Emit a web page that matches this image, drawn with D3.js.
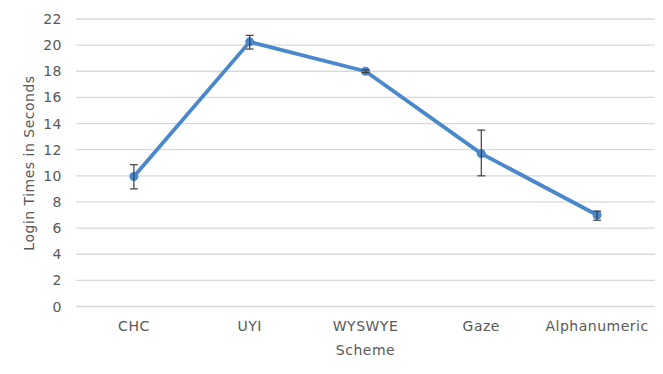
<!DOCTYPE html>
<html>
<head>
<meta charset="utf-8">
<script src="https://cdn.jsdelivr.net/npm/d3@7"></script>
<style>
  body { margin: 0; background: #fff; }
  text { font-family: "DejaVu Sans", Verdana, sans-serif; fill: #595959; letter-spacing: 0.5px; }
</style>
</head>
<body>
<div id="drawing"></div>
<script>
// chart data
const schemes = ["CHC", "UYI", "WYSWYE", "Gaze", "Alphanumeric"];
const loginTimes = [9.95, 20.25, 18.0, 11.7, 7.0];
const errLow = [9.0, 19.7, 17.9, 10.0, 6.6];
const errHigh = [10.85, 20.75, 18.1, 13.5, 7.3];
const yTicks = [0, 2, 4, 6, 8, 10, 12, 14, 16, 18, 20, 22];

const data = schemes.map((s, i) => ({
  scheme: s, value: loginTimes[i], lo: errLow[i], hi: errHigh[i]
}));

const svg = d3.select("#drawing")
  .append("svg")
  .attr("width", 663)
  .attr("height", 374);

const plotLeft = 76, plotRight = 655, plotTop = 19, plotBottom = 306.5;

const xScale = d3.scaleBand().domain(schemes).range([plotLeft, plotRight]);
const yScale = d3.scaleLinear().domain([0, 22]).range([plotBottom, plotTop]);

// gridlines
svg.append("g")
  .selectAll("line")
  .data(yTicks)
  .enter()
  .append("line")
  .attr("x1", plotLeft)
  .attr("x2", plotRight)
  .attr("y1", d => yScale(d))
  .attr("y2", d => yScale(d))
  .attr("stroke", "#d9d9d9")
  .attr("stroke-width", 1.3);

// y tick labels
svg.append("g")
  .selectAll("text")
  .data(yTicks)
  .enter()
  .append("text")
  .attr("x", 62)
  .attr("y", d => yScale(d) + 5)
  .attr("text-anchor", "end")
  .attr("font-size", "14px")
  .text(d => d);

// x labels
svg.append("g")
  .selectAll("text")
  .data(schemes)
  .enter()
  .append("text")
  .attr("x", d => xScale(d) + xScale.bandwidth() / 2)
  .attr("y", 331)
  .attr("text-anchor", "middle")
  .attr("font-size", "14px")
  .text(d => d);

// axis titles
svg.append("text")
  .attr("x", xScale("WYSWYE") + xScale.bandwidth() / 2)
  .attr("y", 355)
  .attr("text-anchor", "middle")
  .attr("font-size", "14px")
  .text("Scheme");

svg.append("text")
  .attr("transform", "rotate(-90)")
  .attr("x", -163)
  .attr("y", 34)
  .attr("text-anchor", "middle")
  .attr("font-size", "14px")
  .text("Login Times in Seconds");

const cx = d => xScale(d.scheme) + xScale.bandwidth() / 2;

// line
const line = d3.line().x(cx).y(d => yScale(d.value));
svg.append("path")
  .datum(data)
  .attr("d", line)
  .attr("fill", "none")
  .attr("stroke", "#4a88cb")
  .attr("stroke-width", 3.8)
  .attr("stroke-linejoin", "round");

// markers
svg.append("g")
  .selectAll("circle")
  .data(data)
  .enter()
  .append("circle")
  .attr("cx", cx)
  .attr("cy", d => yScale(d.value))
  .attr("r", 4.5)
  .attr("fill", "#4a88cb");

// error bars
const eb = svg.append("g").attr("stroke", "#404040").attr("stroke-width", 1.2);
data.forEach(d => {
  const x = cx(d);
  eb.append("line").attr("x1", x).attr("x2", x)
    .attr("y1", yScale(d.lo)).attr("y2", yScale(d.hi));
  eb.append("line").attr("x1", x - 4).attr("x2", x + 4)
    .attr("y1", yScale(d.lo)).attr("y2", yScale(d.lo));
  eb.append("line").attr("x1", x - 4).attr("x2", x + 4)
    .attr("y1", yScale(d.hi)).attr("y2", yScale(d.hi));
});
</script>
</body>
</html>
